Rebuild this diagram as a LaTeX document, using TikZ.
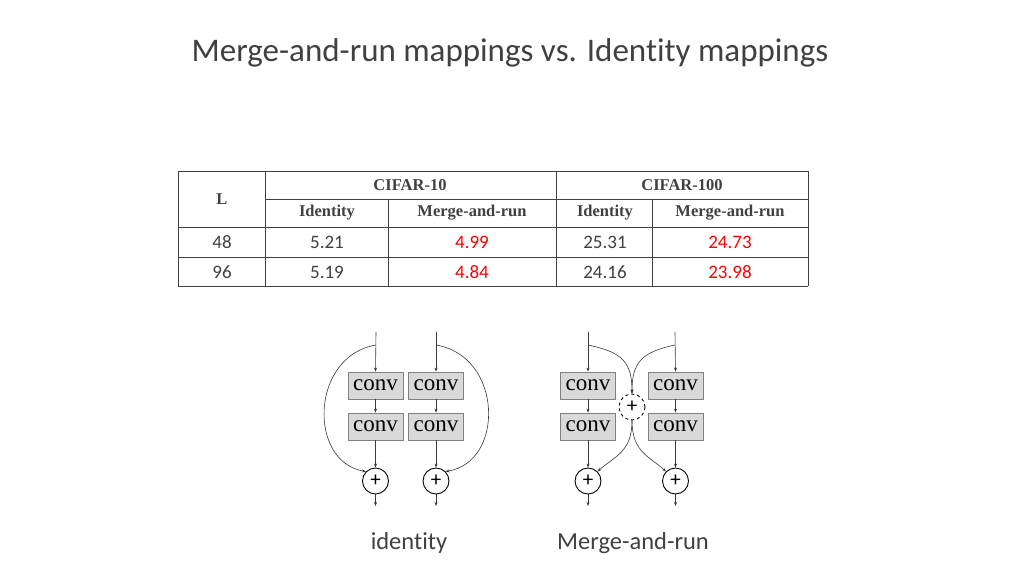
\documentclass[tikz,border=0pt]{standalone}
\usepackage{fontspec}
\setmainfont{Carlito}[Ligatures={NoCommon,NoRequired,NoContextual}]
\newfontfamily\tnr{Liberation Serif}
\usetikzlibrary{arrows.meta}
\definecolor{txt}{HTML}{404040}
\definecolor{ln}{HTML}{3A3A3A}
\definecolor{boxfill}{HTML}{D9D9D9}
\definecolor{boxdraw}{HTML}{808080}
\definecolor{tab}{HTML}{404040}
\begin{document}
\begin{tikzpicture}[x=1pt,y=-1pt,
  hdr/.style={font=\tnr\bfseries\fontsize{16.5}{16.5}\selectfont, text=txt},
  num/.style={font=\fontsize{19}{19}\selectfont, text=txt},
  red/.style={font=\fontsize{19}{19}\selectfont, text=red},
  convbox/.style={draw=boxdraw, fill=boxfill, line width=0.8pt, minimum width=55pt, minimum height=27pt, inner sep=0pt, font=\tnr\fontsize{23}{23}\selectfont},
  plus/.style={circle, draw=black, line width=0.9pt, fill=white, minimum size=26pt, inner sep=0pt, font=\fontsize{21}{21}\selectfont},
  dplus/.style={plus, dashed},
  arr/.style={draw=ln, line width=0.6pt, -{Stealth[length=4pt,width=3pt]}},
  tline/.style={draw=tab, line width=0.7pt}
]
\useasboundingbox (0,0) rectangle (1020,574);
\fill[white] (0,0) rectangle (1020,574);

% title
\node[font=\fontsize{33}{33}\selectfont, text=txt] (title) at (510,53) {Merge-and-run mappings vs. Ident\kern0pt ity mappings};

% table lines
\draw[tline] (178,171) -- (808,171);
\draw[tline] (265,199) -- (808,199);
\draw[tline] (178,227) -- (808,227);
\draw[tline] (178,257) -- (808,257);
\draw[tline] (178,286) -- (808,286);
\draw[tline] (178,171) -- (178,286);
\draw[tline] (808,171) -- (808,286);
\draw[tline] (265,171) -- (265,286);
\draw[tline] (556,171) -- (556,286);
\draw[tline] (388,199) -- (388,286);
\draw[tline] (652,199) -- (652,286);

% table text
\node[hdr] (hL) at (222,199) {L};
\node[hdr] (hc10) at (410,185) {CIFAR-10};
\node[hdr] (hc100) at (682,185) {CIFAR-100};
\node[hdr] (h1) at (327,213) {Identity};
\node[hdr] (h2) at (472,213) {Merge-and-run};
\node[hdr] (h3) at (605,213) {Identity};
\node[hdr] (h4) at (730,213) {Merge-and-run};
\node[num] (a1) at (222,242) {48};
\node[num] (a2) at (327,242) {5.21};
\node[red] (a3) at (472,242) {4.99};
\node[num] (a4) at (605,242) {25.31};
\node[red] (a5) at (730,242) {24.73};
\node[num] (b1) at (222,272) {96};
\node[num] (b2) at (327,272) {5.19};
\node[red] (b3) at (472,272) {4.84};
\node[num] (b4) at (605,272) {24.16};
\node[red] (b5) at (730,272) {23.98};

% identity diagram
\coordinate (iLt) at (376,332);
\coordinate (iRt) at (436,332);
\coordinate (iLs) at (376,345);
\coordinate (iRs) at (436,345);
\node[convbox] (iL1) at (375.5,385.5) {conv};
\node[convbox] (iL2) at (375.5,426.5) {conv};
\node[convbox] (iR1) at (436,385.5) {conv};
\node[convbox] (iR2) at (436,426.5) {conv};
\node[plus] (iLp) at (375.5,481) {+};
\node[plus] (iRp) at (436,481) {+};
\coordinate (iLo) at (375.5,506);
\coordinate (iRo) at (436,506);
\draw[arr] (iLt) -- (iL1.north);
\draw[arr] (iL1.south) -- (iL2.north);
\draw[arr] (iL2.south) -- (iLp.north);
\draw[arr] (iLp.south) -- (iLo);
\draw[arr] (iRt) -- (iR1.north);
\draw[arr] (iR1.south) -- (iR2.north);
\draw[arr] (iR2.south) -- (iRp.north);
\draw[arr] (iRp.south) -- (iRo);
\draw[arr] (iLs) .. controls (310,356) and (308,462) .. (iLp.135);
\draw[arr] (iRs) .. controls (503,356) and (505,462) .. (iRp.45);

% merge-and-run diagram
\coordinate (mLt) at (588,332);
\coordinate (mRt) at (675,332);
\coordinate (mLs) at (588,345);
\coordinate (mRs) at (675,345);
\node[convbox] (mL1) at (588,385.5) {conv};
\node[convbox] (mL2) at (588,426.5) {conv};
\node[convbox] (mR1) at (675.5,385.5) {conv};
\node[convbox] (mR2) at (675.5,426.5) {conv};
\node[dplus] (mM) at (632,407) {+};
\node[plus] (mLp) at (588,481) {+};
\node[plus] (mRp) at (675.5,481) {+};
\coordinate (mLo) at (588,506);
\coordinate (mRo) at (675.5,506);
\draw[arr] (mLt) -- (mL1.north);
\draw[arr] (mL1.south) -- (mL2.north);
\draw[arr] (mL2.south) -- (mLp.north);
\draw[arr] (mLp.south) -- (mLo);
\draw[arr] (mRt) -- (mR1.north);
\draw[arr] (mR1.south) -- (mR2.north);
\draw[arr] (mR2.south) -- (mRp.north);
\draw[arr] (mRp.south) -- (mRo);
\draw[arr] (mLs) .. controls (622,352) and (632,362) .. (mM.north);
\draw[arr] (mRs) .. controls (642,352) and (632,362) .. (mM.north);
\draw[arr] (mM.south) .. controls (632,452) and (615,456) .. (mLp.45);
\draw[arr] (mM.south) .. controls (632,452) and (649,456) .. (mRp.135);

% captions
\node[font=\fontsize{24.5}{24.5}\selectfont, text=txt] (capI) at (409,543) {ident\kern0pt ity};
\node[font=\fontsize{24.5}{24.5}\selectfont, text=txt] (capM) at (633,543) {Merge-and-run};
\end{tikzpicture}
\end{document}
